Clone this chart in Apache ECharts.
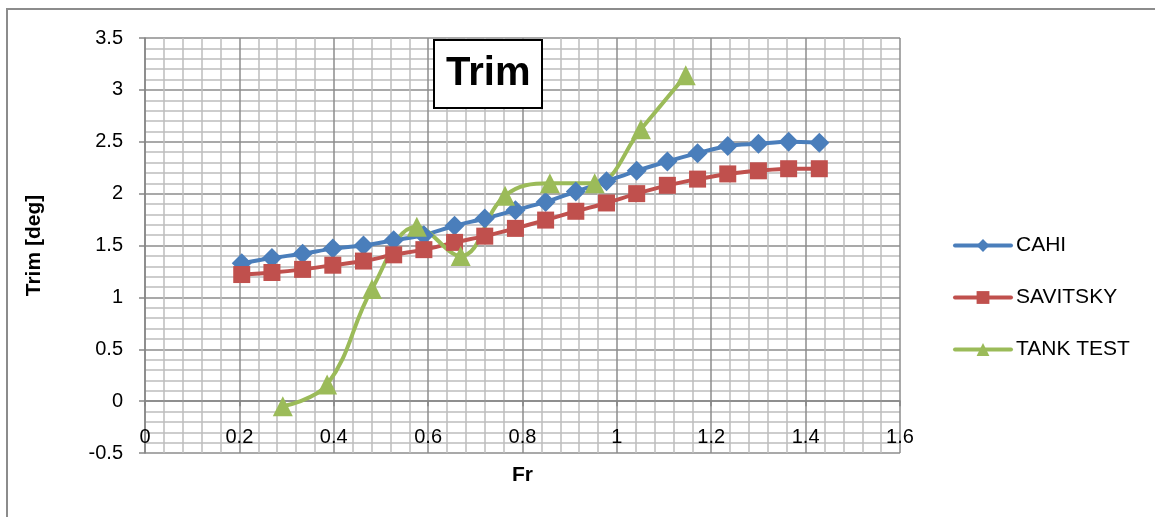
<!DOCTYPE html>
<html>
<head>
<meta charset="utf-8">
<script src="https://cdn.jsdelivr.net/npm/echarts@6/dist/echarts.min.js"></script>
<style>
  html, body { margin: 0; padding: 0; background: #ffffff; }
  #chart { width: 1155px; height: 517px; }
</style>
</head>
<body>
<div id="chart"></div>
<script>
// ---- data ----
const frCalc = [0.205, 0.269, 0.334, 0.398, 0.463, 0.527, 0.591, 0.656, 0.720, 0.785,
                0.849, 0.913, 0.978, 1.042, 1.107, 1.171, 1.235, 1.300, 1.364, 1.429];
const cahi = [1.33, 1.38, 1.42, 1.47, 1.50, 1.55, 1.60, 1.69, 1.76, 1.84,
              1.92, 2.02, 2.12, 2.22, 2.31, 2.39, 2.46, 2.48, 2.50, 2.49];
const savitsky = [1.22, 1.24, 1.27, 1.31, 1.35, 1.41, 1.46, 1.53, 1.59, 1.665,
                  1.745, 1.83, 1.91, 2.00, 2.08, 2.14, 2.19, 2.22, 2.24, 2.24];
const frTank = [0.292, 0.386, 0.481, 0.576, 0.669, 0.763, 0.858, 0.953, 1.051, 1.146];
const tankTest = [-0.05, 0.16, 1.08, 1.68, 1.40, 1.98, 2.10, 2.10, 2.62, 3.14];
const seriesNames = ['CAHI', 'SAVITSKY', 'TANK TEST'];
const titleText = 'Trim';
const xName = 'Fr';
const yName = 'Trim [deg]';
const xMin = 0, xMax = 1.6, xStep = 0.2;
const yMin = -0.5, yMax = 3.5, yStep = 0.5;

const pairs = (xs, ys) => xs.map((x, i) => [x, ys[i]]);

// layout
const W = 1155, H = 517;
const G = { left: 145, right: 255, top: 38, bottom: 64 };
const plotH = H - G.top - G.bottom;
// x axis crosses the value axis at y = 0 (Excel style)
const xAxisOffset = -((0 - yMin) / (yMax - yMin)) * plotH;

const FONT = '"Liberation Sans", Arial, sans-serif';
const majorGrid = { show: true, lineStyle: { color: '#8c8c8c', width: 1.5 } };
const minorGrid = { show: true, lineStyle: { color: '#bdbdbd', width: 1.5 } };
const LW = 4;

const chart = echarts.init(document.getElementById('chart'));
chart.setOption({
  animation: false,
  backgroundColor: '#ffffff',
  title: {
    text: titleText,
    left: 434, top: 40,
    padding: [12, 12],
    borderColor: '#000000', borderWidth: 2,
    backgroundColor: '#ffffff',
    textStyle: { fontFamily: FONT, fontSize: 40, fontWeight: 'bold', color: '#000', lineHeight: 44 }
  },
  graphic: [{
    type: 'rect', silent: true, z: -10,
    shape: { x: 7, y: 9, width: 1170, height: 530 },
    style: { fill: 'none', stroke: '#8c8c8c', lineWidth: 2 }
  }],
  legend: {
    orient: 'vertical',
    left: 948, top: 230,
    itemWidth: 56, itemHeight: 16,
    itemGap: 31,
    lineStyle: { width: 4 },
    textStyle: { fontFamily: FONT, fontSize: 21, color: '#000', lineHeight: 16 },
    data: seriesNames
  },
  grid: { left: G.left, right: G.right, top: G.top, bottom: G.bottom, outerBoundsMode: 'none', containLabel: false },
  xAxis: {
    type: 'value', min: xMin, max: xMax, interval: xStep,
    offset: xAxisOffset,
    name: xName, nameLocation: 'middle', nameGap: 64,
    nameTextStyle: { fontFamily: FONT, fontSize: 21, fontWeight: 'bold', color: '#000' },
    axisLine: { show: true, onZero: false, lineStyle: { color: '#868686', width: 1.5 } },
    axisTick: { show: true, length: 5, lineStyle: { color: '#868686', width: 1.5 } },
    axisLabel: { margin: 26, fontFamily: FONT, fontSize: 20, color: '#000' },
    splitLine: majorGrid,
    minorTick: { show: false, splitNumber: 5 },
    minorSplitLine: minorGrid
  },
  yAxis: {
    type: 'value', min: yMin, max: yMax, interval: yStep,
    name: yName, nameLocation: 'middle', nameGap: 100,
    nameTextStyle: { fontFamily: FONT, fontSize: 21, fontWeight: 'bold', color: '#000' },
    axisLine: { show: true, onZero: false, lineStyle: { color: '#868686', width: 1.5 } },
    axisTick: { show: true, length: 6, lineStyle: { color: '#868686', width: 1.5 } },
    axisLabel: { margin: 22, fontFamily: FONT, fontSize: 20, color: '#000' },
    splitLine: majorGrid,
    minorTick: { show: false, splitNumber: 5 },
    minorSplitLine: minorGrid
  },
  series: [
    {
      name: seriesNames[0], type: 'line', data: pairs(frCalc, cahi),
      smooth: 0.3, symbol: 'diamond', symbolSize: 20,
      color: '#4a7ebb',
      itemStyle: { color: '#4a7ebb' },
      lineStyle: { color: '#4a7ebb', width: LW, cap: 'round', join: 'round' }
    },
    {
      name: seriesNames[1], type: 'line', data: pairs(frCalc, savitsky),
      smooth: 0.3, symbol: 'rect', symbolSize: 17,
      color: '#c0504d',
      itemStyle: { color: '#c0504d' },
      lineStyle: { color: '#c0504d', width: LW, cap: 'round', join: 'round' }
    },
    {
      name: seriesNames[2], type: 'line', data: pairs(frTank, tankTest),
      smooth: 0.4, symbol: 'triangle', symbolSize: 20,
      color: '#9bbb59',
      itemStyle: { color: '#9bbb59' },
      lineStyle: { color: '#9bbb59', width: LW, cap: 'round', join: 'round' }
    }
  ]
});
</script>
</body>
</html>
